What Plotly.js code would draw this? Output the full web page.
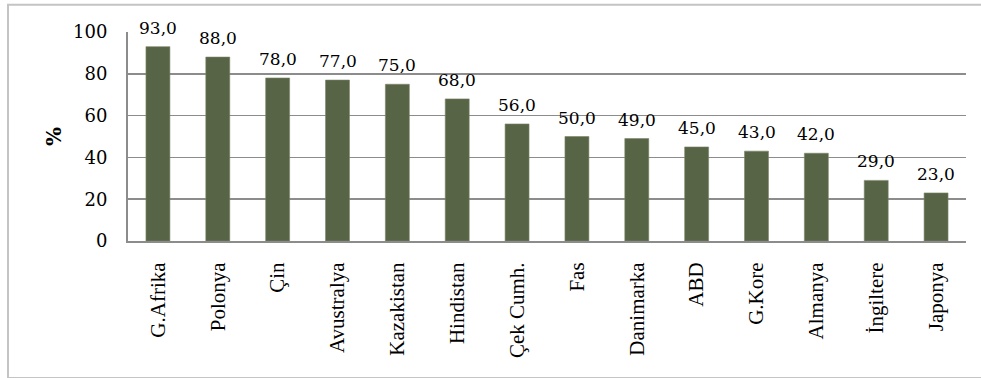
<!DOCTYPE html>
<html>
<head>
<meta charset="utf-8">
<script src="https://cdn.plot.ly/plotly-3.0.1.min.js"></script>
<style>
  html, body { margin: 0; padding: 0; background: #fff; }
  #chart { width: 981px; height: 378px; }
</style>
</head>
<body>
<div id="chart"></div>
<script>
const categories = ["G.Afrika", "Polonya", "Çin", "Avustralya", "Kazakistan", "Hindistan", "Çek Cumh.", "Fas", "Danimarka", "ABD", "G.Kore", "Almanya", "İngiltere", "Japonya"];
const values = [93.0, 88.0, 78.0, 77.0, 75.0, 68.0, 56.0, 50.0, 49.0, 45.0, 43.0, 42.0, 29.0, 23.0];
const yTicks = [0, 20, 40, 60, 80, 100];
const yTitle = "%";

const FONT = "DejaVu Serif, Liberation Serif, serif";
const CATFONT = "Liberation Serif, DejaVu Serif, serif";

const trace = {
  type: "bar",
  x: categories,
  y: values,
  marker: { color: "#586446", line: { color: "#7a8468", width: 0.6 } },
  hoverinfo: "x+y"
};

const annotations = categories.map((c, i) => ({
  x: c, y: values[i], xref: "x", yref: "y",
  text: values[i].toFixed(1).replace(".", ","),
  showarrow: false, yanchor: "bottom", yshift: 7,
  font: { family: FONT, size: 17, color: "#000" }
}));

const layout = {
  width: 981, height: 378,
  margin: { l: 128, r: 15, t: 32, b: 137 },
  paper_bgcolor: "#fff", plot_bgcolor: "#fff",
  separators: ",.",
  bargap: 0.6,
  showlegend: false,
  font: { family: FONT, size: 17, color: "#000" },
  xaxis: {
    type: "category",
    tickangle: -90,
    showline: true, linecolor: "#8c8c8c", linewidth: 2,
    ticks: "outside", ticklen: 11, tickcolor: "rgba(0,0,0,0)",
    tickfont: { family: CATFONT, size: 21, color: "#000" },
    showgrid: false, zeroline: false
  },
  yaxis: {
    range: [0, 100],
    tickvals: yTicks,
    ticktext: yTicks.map(String),
    showline: true, linecolor: "#8c8c8c", linewidth: 2,
    showgrid: true, gridcolor: "#8c8c8c", gridwidth: 1.5,
    zeroline: false,
    ticks: "outside", ticklen: 15, tickcolor: "rgba(0,0,0,0)",
    tickfont: { family: FONT, size: 18, color: "#000" },
    title: { text: yTitle, font: { family: FONT, size: 20, color: "#000", weight: "bold" }, standoff: 6 }
  },
  annotations: annotations,
  shapes: [{
    type: "rect", xref: "paper", yref: "paper",
    x0: -0.1432, x1: 1.03, y0: -0.655, y1: 1.13,
    line: { color: "#c4c4c4", width: 2 }, fillcolor: "rgba(0,0,0,0)", layer: "below"
  }]
};

Plotly.newPlot("chart", [trace], layout, { displayModeBar: false, staticPlot: true });
</script>
</body>
</html>
